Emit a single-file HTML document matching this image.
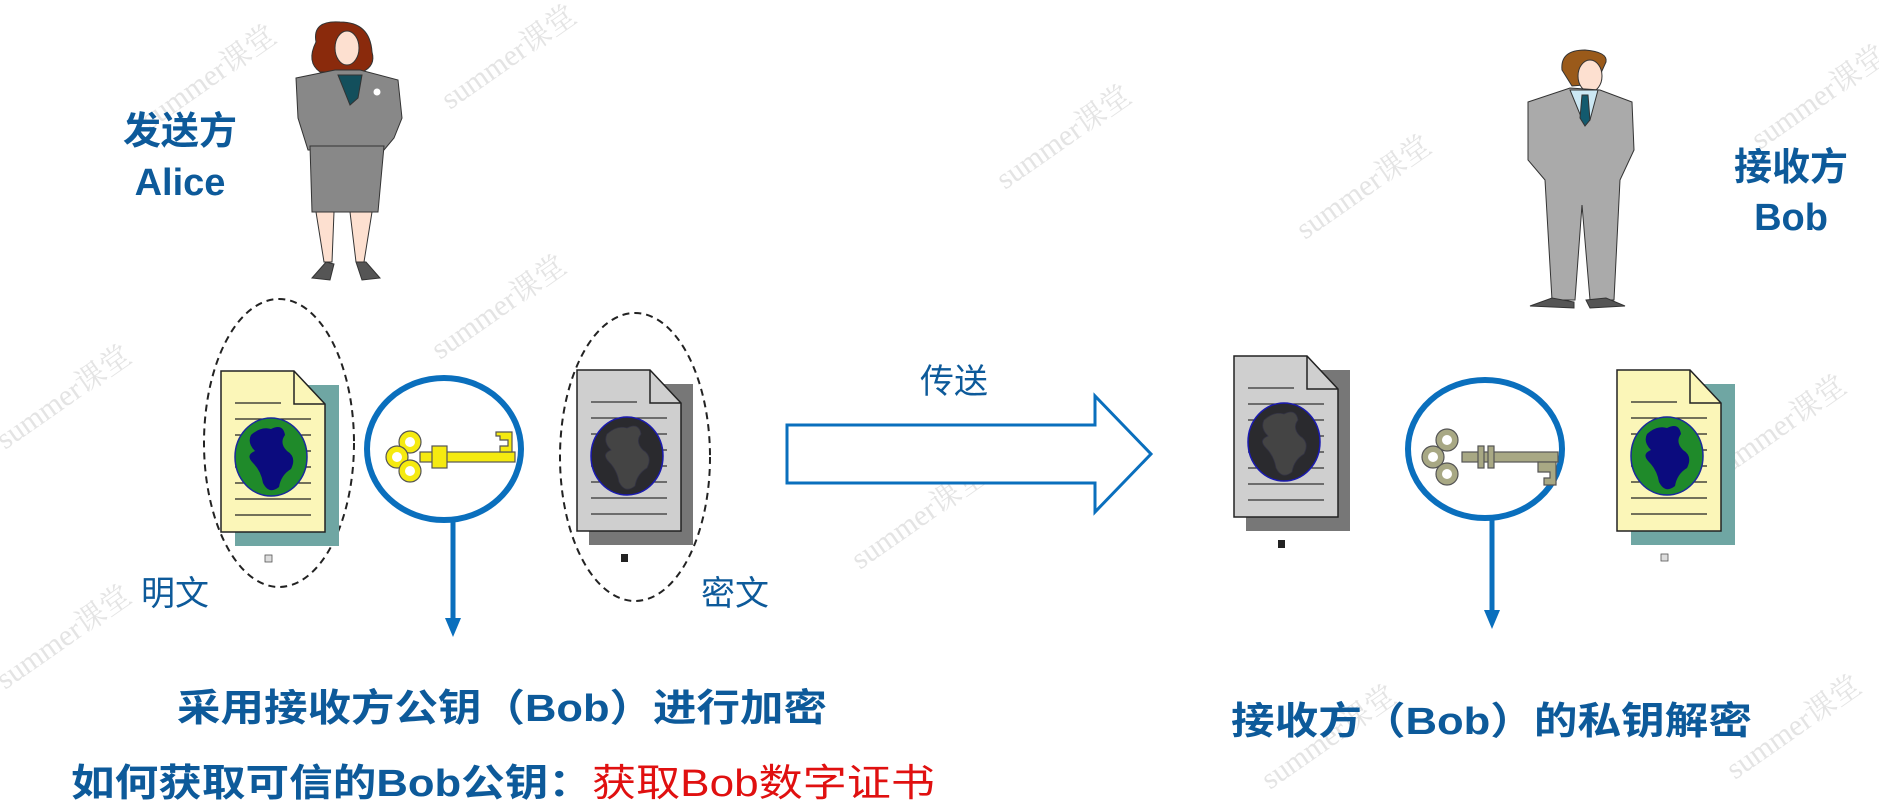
<!DOCTYPE html>
<html><head><meta charset="utf-8"><style>
html,body{margin:0;padding:0;background:#fff;}
svg{display:block;}
.t{font-family:"Liberation Sans","Noto Sans CJK SC",sans-serif;}
.w{font-family:"Liberation Serif","Noto Serif CJK SC",serif;}
</style></head><body>
<svg width="1879" height="812" viewBox="0 0 1879 812" xmlns="http://www.w3.org/2000/svg">
<defs>
<g id="ydoc">
  <rect x="14" y="14" width="104" height="161" fill="#6fa6a3"/>
  <path d="M0 0 H73 L104 33 V161 H0 Z" fill="#fbf6b8" stroke="#222" stroke-width="1.5"/>
  <path d="M73 0 V33 H104" fill="none" stroke="#222" stroke-width="1.5"/>
  <g stroke="#222" stroke-width="1.2">
    <line x1="14" y1="32" x2="60" y2="32"/><line x1="14" y1="48" x2="90" y2="48"/>
    <line x1="14" y1="64" x2="90" y2="64"/><line x1="14" y1="80" x2="90" y2="80"/>
    <line x1="14" y1="96" x2="90" y2="96"/><line x1="14" y1="112" x2="90" y2="112"/>
    <line x1="14" y1="128" x2="90" y2="128"/><line x1="14" y1="144" x2="90" y2="144"/>
  </g>
  <ellipse cx="50" cy="86" rx="36" ry="39" fill="#1f8a2a" stroke="#1a2a9c" stroke-width="1.5"/>
  <path d="M30 64 Q40 55 50 58 Q62 52 64 64 Q58 72 66 80 Q76 86 70 98 Q60 104 58 116 Q48 124 42 112 Q40 100 32 92 Q24 84 34 80 Q26 72 30 64Z" fill="#0b0b7e"/>
  <rect x="44" y="184" width="7" height="7" fill="#ddd" stroke="#555" stroke-width="0.8"/>
</g>
<g id="gdoc">
  <rect x="12" y="14" width="104" height="161" fill="#777"/>
  <path d="M0 0 H73 L104 33 V161 H0 Z" fill="#cfcfcf" stroke="#222" stroke-width="1.5"/>
  <path d="M73 0 V33 H104" fill="none" stroke="#222" stroke-width="1.5"/>
  <g stroke="#333" stroke-width="1.2">
    <line x1="14" y1="32" x2="60" y2="32"/><line x1="14" y1="48" x2="90" y2="48"/>
    <line x1="14" y1="64" x2="90" y2="64"/><line x1="14" y1="80" x2="90" y2="80"/>
    <line x1="14" y1="96" x2="90" y2="96"/><line x1="14" y1="112" x2="90" y2="112"/>
    <line x1="14" y1="128" x2="90" y2="128"/><line x1="14" y1="144" x2="90" y2="144"/>
  </g>
  <ellipse cx="50" cy="86" rx="36" ry="39" fill="#2a2a2e" stroke="#1a1ab0" stroke-width="1.5"/>
  <path d="M30 64 Q40 55 50 58 Q62 52 64 64 Q58 72 66 80 Q76 86 70 98 Q60 104 58 116 Q48 124 42 112 Q40 100 32 92 Q24 84 34 80 Q26 72 30 64Z" fill="#444" stroke="#334" stroke-width="0.8"/>
  <rect x="44" y="184" width="7" height="8" fill="#222"/>
</g>
</defs>

<!-- watermarks -->
<g class="w" font-size="30" fill="#e4e4e4">
  <text transform="translate(150,130) rotate(-35)">summer课堂</text>
  <text transform="translate(450,110) rotate(-35)">summer课堂</text>
  <text transform="translate(440,360) rotate(-35)">summer课堂</text>
  <text transform="translate(5,450) rotate(-35)">summer课堂</text>
  <text transform="translate(5,690) rotate(-35)">summer课堂</text>
  <text transform="translate(860,570) rotate(-35)">summer课堂</text>
  <text transform="translate(1005,190) rotate(-35)">summer课堂</text>
  <text transform="translate(1305,240) rotate(-35)">summer课堂</text>
  <text transform="translate(1760,150) rotate(-35)">summer课堂</text>
  <text transform="translate(1720,480) rotate(-35)">summer课堂</text>
  <text transform="translate(1735,780) rotate(-35)">summer课堂</text>
  <text transform="translate(1270,790) rotate(-35)">summer课堂</text>
</g>

<!-- Alice -->
<g stroke="#333" stroke-width="1">
  <path d="M316 42 Q312 20 340 22 Q370 22 372 52 Q376 66 362 72 L320 72 Q306 62 316 42Z" fill="#8a2a0c"/>
  <ellipse cx="347" cy="48" rx="12" ry="17" fill="#fde0d0"/>
  <path d="M316 212 L334 212 L332 262 L324 262Z M350 212 L372 212 L364 262 L356 262Z" fill="#fde0d0"/>
  <path d="M296 78 L335 70 L360 70 L398 80 L402 118 L394 138 L384 150 L308 150 L298 118Z" fill="#888"/>
  <path d="M338 75 L362 75 L358 98 L350 105Z" fill="#134f5c"/>
  <path d="M310 146 L384 146 L378 212 L312 212Z" fill="#888"/>
  <path d="M312 278 L326 262 L334 264 L330 280Z M356 262 L366 262 L380 278 L362 280Z" fill="#555"/>
</g>
<circle cx="377" cy="92" r="4" fill="#fff" stroke="#888"/>

<!-- Bob -->
<g stroke="#333" stroke-width="1">
  <path d="M1562 70 Q1560 50 1585 50 Q1608 52 1606 62 L1596 84 L1572 86Z" fill="#9a5a1a"/>
  <ellipse cx="1590" cy="76" rx="12" ry="16" fill="#fde0d0"/>
  <path d="M1528 102 L1570 88 L1600 90 L1632 102 L1634 150 L1620 180 L1614 300 L1590 300 L1582 205 L1575 300 L1552 300 L1545 180 L1528 160Z" fill="#aaa"/>
  <path d="M1570 90 L1598 90 L1590 120 L1584 124Z" fill="#cce8f4"/>
  <path d="M1582 95 L1588 95 L1590 120 L1585 126 L1580 118Z" fill="#135a6e"/>
  <path d="M1530 306 L1552 298 L1574 302 L1574 308Z M1586 300 L1606 298 L1625 306 L1590 308Z" fill="#555"/>
</g>

<!-- labels top -->
<g class="t" font-weight="bold" fill="#0d5a9a" text-anchor="middle" font-size="38">
  <text x="180" y="144">发送方</text>
  <text x="180" y="195">Alice</text>
  <text x="1791" y="180">接收方</text>
  <text x="1791" y="230">Bob</text>
</g>

<!-- dashed ellipses -->
<ellipse cx="279" cy="443" rx="75" ry="144" fill="none" stroke="#222" stroke-width="2" stroke-dasharray="7,5"/>
<ellipse cx="635" cy="457" rx="75" ry="144" fill="none" stroke="#222" stroke-width="2" stroke-dasharray="7,5"/>

<use href="#ydoc" x="221" y="371"/>
<use href="#gdoc" x="577" y="370"/>
<use href="#gdoc" x="1234" y="356"/>
<use href="#ydoc" x="1617" y="370"/>

<!-- key circles -->
<g fill="none" stroke="#0a6fbd" stroke-width="6">
  <ellipse cx="444" cy="449" rx="77" ry="71"/>
  <ellipse cx="1485" cy="449" rx="77" ry="69"/>
  <line x1="453" y1="520" x2="453" y2="620" stroke-width="5"/>
  <line x1="1492" y1="518" x2="1492" y2="612" stroke-width="5"/>
</g>
<polygon points="445,618 461,618 453,637" fill="#0a6fbd"/>
<polygon points="1484,610 1500,610 1492,629" fill="#0a6fbd"/>

<!-- yellow key -->
<g fill="#f5ea10" stroke="#555" stroke-width="1.2">
  <rect x="420" y="452" width="95" height="10"/>
  <rect x="432" y="446" width="15" height="22"/>
  <path d="M496 432 H512 V452 H500 V446 H508 V440 H500 V436 H496Z"/>
  <circle cx="410" cy="442" r="11"/><circle cx="397" cy="457" r="11"/><circle cx="410" cy="471" r="11"/>
</g>
<g fill="#fff"><circle cx="410" cy="442" r="5"/><circle cx="397" cy="457" r="5"/><circle cx="410" cy="471" r="5"/></g>

<!-- olive key -->
<g fill="#a8a884" stroke="#555" stroke-width="1.2">
  <rect x="1462" y="452" width="96" height="10"/>
  <rect x="1478" y="446" width="6" height="22"/><rect x="1488" y="446" width="6" height="22"/>
  <path d="M1538 462 H1556 V485 H1544 V478 H1550 V472 H1538Z"/>
  <circle cx="1447" cy="440" r="11"/><circle cx="1433" cy="457" r="11"/><circle cx="1447" cy="474" r="11"/>
</g>
<g fill="#fff"><circle cx="1447" cy="440" r="5"/><circle cx="1433" cy="457" r="5"/><circle cx="1447" cy="474" r="5"/></g>

<!-- big arrow -->
<polygon points="787,425 1095,425 1095,396 1151,454 1095,512 1095,483 787,483" fill="#fff" stroke="#0a6fbd" stroke-width="3"/>

<g class="t" fill="#0d5a9a" font-size="34">
  <text x="141" y="605">明文</text>
  <text x="701" y="605">密文</text>
  <text x="920" y="393">传送</text>
</g>

<g class="t" font-weight="bold" font-size="38" fill="#0d5a9a">
  <text x="177" y="721" textLength="650" lengthAdjust="spacingAndGlyphs">采用接收方公钥（Bob）进行加密</text>
  <text x="1231" y="734" textLength="521" lengthAdjust="spacingAndGlyphs">接收方（Bob）的私钥解密</text>
  <text x="71" y="796" textLength="521" lengthAdjust="spacingAndGlyphs">如何获取可信的Bob公钥：</text>
</g>
<text class="t" x="592" y="796" font-size="38" fill="#e01010" textLength="343" lengthAdjust="spacingAndGlyphs">获取Bob数字证书</text>
</svg>
</body></html>
